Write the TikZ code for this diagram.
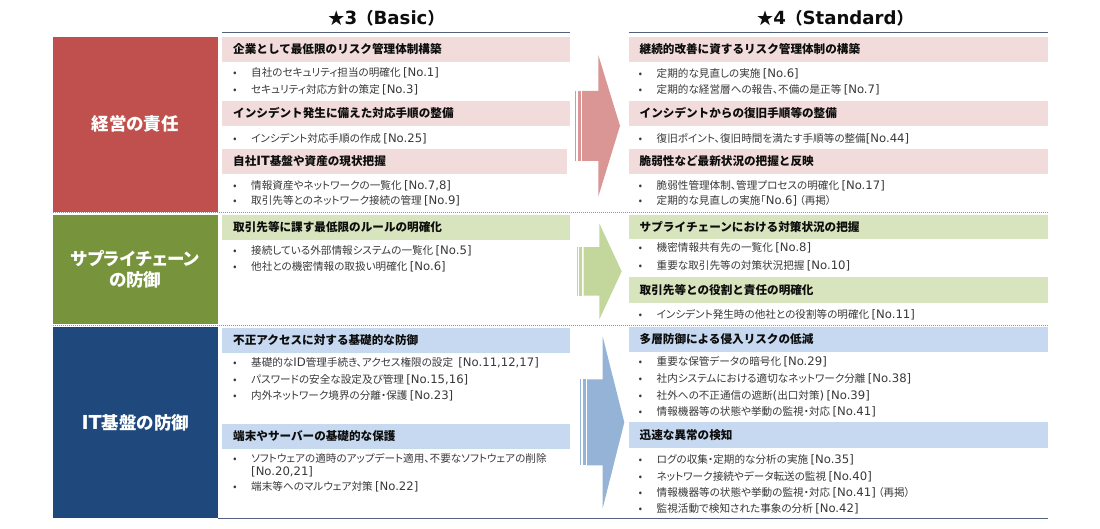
\documentclass[tikz,border=0pt]{standalone}
\usepackage{fontspec}
\setmainfont{Noto Sans CJK JP}
\newfontfamily\palfont{Noto Sans CJK JP}[RawFeature=+palt]
\newfontfamily\latinfont{DejaVu Sans}[Scale=1.1]
\usetikzlibrary{positioning}

\definecolor{redbox}{RGB}{192,80,77}
\definecolor{greenbox}{RGB}{119,147,60}
\definecolor{bluebox}{RGB}{31,73,125}
\definecolor{redband}{RGB}{242,220,219}
\definecolor{greenband}{RGB}{215,228,189}
\definecolor{blueband}{RGB}{198,217,241}
\definecolor{redarrow}{RGB}{217,150,148}
\definecolor{greenarrow}{RGB}{195,214,155}
\definecolor{bluearrow}{RGB}{149,179,215}
\definecolor{rulecol}{RGB}{84,98,125}
\definecolor{sepcol}{RGB}{140,152,176}
\definecolor{headtext}{RGB}{13,13,13}
\definecolor{itemtext}{RGB}{56,56,56}

\newcommand\ttlfont{\fontsize{16.5}{19}\selectfont\bfseries}
\newcommand\catfont{\palfont\fontsize{17.5}{21}\selectfont\bfseries}
\newcommand\hfont{\fontsize{11.6}{14}\selectfont\bfseries}
\newcommand\itemfont{\palfont\fontsize{10.6}{12}\selectfont}
% latin parts
\newcommand\lat[1]{{\latinfont #1}}
\newcommand\no[1]{{\latinfont [No.#1]}}

\newcommand\stripedarrow[7]{%
  \fill[#1] (#2,#5-#6) rectangle (#2+1.4,#5+#6);
  \fill[#1] (#2+2.8,#5-#6) rectangle (#2+5.6,#5+#6);
  \fill[#1] (#2+7,#5-#6) -- (#3,#5-#6) -- (#3,#5-#7) -- (#4,#5)
    -- (#3,#5+#7) -- (#3,#5+#6) -- (#2+7,#5+#6) -- cycle;%
}

\tikzset{
	title/.style={font=\ttlfont, text=headtext},
	catbox/.style={minimum width=165.5pt, inner sep=0pt, text=white, font=\catfont, align=center},
	band/.style={anchor=north west, minimum height=24.5pt, inner xsep=11pt, inner ysep=0pt,
		font=\hfont, text=headtext, align=left},
	lband/.style={band, text width=326pt},
	rband/.style={band, text width=397.5pt},
	item/.style={anchor=west, inner sep=0pt, font=\itemfont, text=itemtext},
	rule/.style={draw=rulecol, line width=1.2pt},
	sep/.style={draw=sepcol, line width=0.8pt, dash pattern=on 1pt off 1pt}
}

\begin{document}
\begin{tikzpicture}[x=1pt, y=-1pt]
	\useasboundingbox (0,0) rectangle (1100,528);

	% level titles
	\node[title] (t3) at (386,18) {★\lat{3}（\lat{Basic}）};
	\node[title] (t4) at (835,18) {★\lat{4}（\lat{Standard}）};
	\draw[rule] (222,32.3) -- (570,32.3);
	\draw[rule] (628.5,32.3) -- (1048,32.3);

	% categories
	\node[catbox, fill=redbox, minimum height=174.5pt] (cat1) at (135.3,124.3) {経営の責任};
	\node[catbox, fill=greenbox, minimum height=109pt] (cat2) at (135.3,269.5) {サプライチェーン\\の防御};
	\node[catbox, fill=bluebox, minimum height=191.3pt] (cat3) at (135.3,422.4) {\lat{IT}基盤の防御};

	\draw[sep] (52.5,212.8) -- (1048,212.8);
	\draw[sep] (52.5,325) -- (1048,325);
	\draw[rule, line width=1pt] (218,518.3) -- (1048,518.3);

	% arrows
	\stripedarrow{redarrow}{575}{598.3}{620}{125.8}{35}{70.8}
	\stripedarrow{greenarrow}{576.5}{599.3}{621.7}{271.4}{24.2}{48}
	\stripedarrow{bluearrow}{580}{602.7}{624.3}{422.4}{43}{85.8}

	% star 3
	\node[lband, fill=redband] (l1) at (222,37) {企業として最低限のリスク管理体制構築};
	\foreach \y/\t [count=\i] in {73.3/{自社のセキュリティ担当の明確化 \no{1}}, 89.3/{セキュリティ対応方針の策定 \no{3}}}
		\node[item] (l1i\i) at (233,\y) {\makebox[18pt][l]{•}\t};
	\node[lband, fill=redband] (l2) at (222,101) {インシデント発生に備えた対応手順の整備};
	\node[item] (l2i1) at (233,138.3) {\makebox[18pt][l]{•}インシデント対応手順の作成 \no{25}};
	\node[lband, fill=redband, text width=323pt] (l3) at (222,149) {自社\lat{IT}基盤や資産の現状把握};
	\foreach \y/\t [count=\i] in {185.7/{情報資産やネットワークの一覧化 \no{7,8}}, 201/{取引先等とのネットワーク接続の管理 \no{9}}}
		\node[item] (l3i\i) at (233,\y) {\makebox[18pt][l]{•}\t};

	\node[lband, fill=greenband] (l4) at (222,215) {取引先等に課す最低限のルールの明確化};
	\foreach \y/\t [count=\i] in {250.5/{接続している外部情報システムの一覧化 \no{5}}, 266.5/{他社との機密情報の取扱い明確化 \no{6}}}
		\node[item] (l4i\i) at (233,\y) {\makebox[18pt][l]{•}\t};

	\node[lband, fill=blueband] (l5) at (222,328) {不正アクセスに対する基礎的な防御};
	\foreach \y/\t [count=\i] in {362.7/{基礎的な\lat{ID}管理手続き、アクセス権限の設定\enspace\no{11,12,17}}, 380/{パスワードの安全な設定及び管理 \no{15,16}}, 396/{内外ネットワーク境界の分離・保護 \no{23}}}
		\node[item] (l5i\i) at (233,\y) {\makebox[18pt][l]{•}\t};
	\node[lband, fill=blueband] (l6) at (222,424) {端末やサーバーの基礎的な保護};
	\node[item] (l6i1) at (233,458.3) {\makebox[18pt][l]{•}ソフトウェアの適時のアップデート適用、不要なソフトウェアの削除};
	\node[item] (l6i1b) at (251,471.7) {\no{20,21}};
	\node[item] (l6i2) at (233,486.7) {\makebox[18pt][l]{•}端末等へのマルウェア対策 \no{22}};

	% star 4
	\node[rband, fill=redband] (r1) at (628.5,37) {継続的改善に資するリスク管理体制の構築};
	\foreach \y/\t [count=\i] in {73.3/{定期的な見直しの実施 \no{6}}, 89.3/{定期的な経営層への報告、不備の是正等 \no{7}}}
		\node[item] (r1i\i) at (638.5,\y) {\makebox[18pt][l]{•}\t};
	\node[rband, fill=redband] (r2) at (628.5,101) {インシデントからの復旧手順等の整備};
	\node[item] (r2i1) at (638.5,138.3) {\makebox[18pt][l]{•}復旧ポイント、復旧時間を満たす手順等の整備\no{44}};
	\node[rband, fill=redband] (r3) at (628.5,149) {脆弱性など最新状況の把握と反映};
	\foreach \y/\t [count=\i] in {185.7/{脆弱性管理体制、管理プロセスの明確化 \no{17}}, 201/{定期的な見直しの実施｢\lat{No.6]} （再掲）}}
		\node[item] (r3i\i) at (638.5,\y) {\makebox[18pt][l]{•}\t};

	\node[rband, fill=greenband, minimum height=23.5pt] (r4) at (628.5,215) {サプライチェーンにおける対策状況の把握};
	\foreach \y/\t [count=\i] in {248.3/{機密情報共有先の一覧化 \no{8}}, 265.7/{重要な取引先等の対策状況把握 \no{10}}}
		\node[item] (r4i\i) at (638.5,\y) {\makebox[18pt][l]{•}\t};
	\node[rband, fill=greenband, minimum height=25.5pt] (r5) at (628.5,277) {取引先等との役割と責任の明確化};
	\node[item] (r5i1) at (638.5,314.3) {\makebox[18pt][l]{•}インシデント発生時の他社との役割等の明確化 \no{11}};

	\node[rband, fill=blueband, minimum height=25pt] (r6) at (628.5,326.8) {多層防御による侵入リスクの低減};
	\foreach \y/\t [count=\i] in {361.7/{重要な保管データの暗号化 \no{29}}, 378.7/{社内システムにおける適切なネットワーク分離 \no{38}}, 395.7/{社外への不正通信の遮断\lat{(}出口対策\lat{)} \no{39}}, 411.7/{情報機器等の状態や挙動の監視・対応 \no{41}}}
		\node[item] (r6i\i) at (638.5,\y) {\makebox[18pt][l]{•}\t};
	\node[rband, fill=blueband, minimum height=25.5pt] (r7) at (628.5,421.8) {迅速な異常の検知};
	\foreach \y/\t [count=\i] in {460/{ログの収集・定期的な分析の実施 \no{35}}, 476.3/{ネットワーク接続やデータ転送の監視 \no{40}}, 492.7/{情報機器等の状態や挙動の監視・対応 \no{41} （再掲）}, 508.6/{監視活動で検知された事象の分析 \no{42}}}
		\node[item] (r7i\i) at (638.5,\y) {\makebox[18pt][l]{•}\t};
\end{tikzpicture}
\end{document}
